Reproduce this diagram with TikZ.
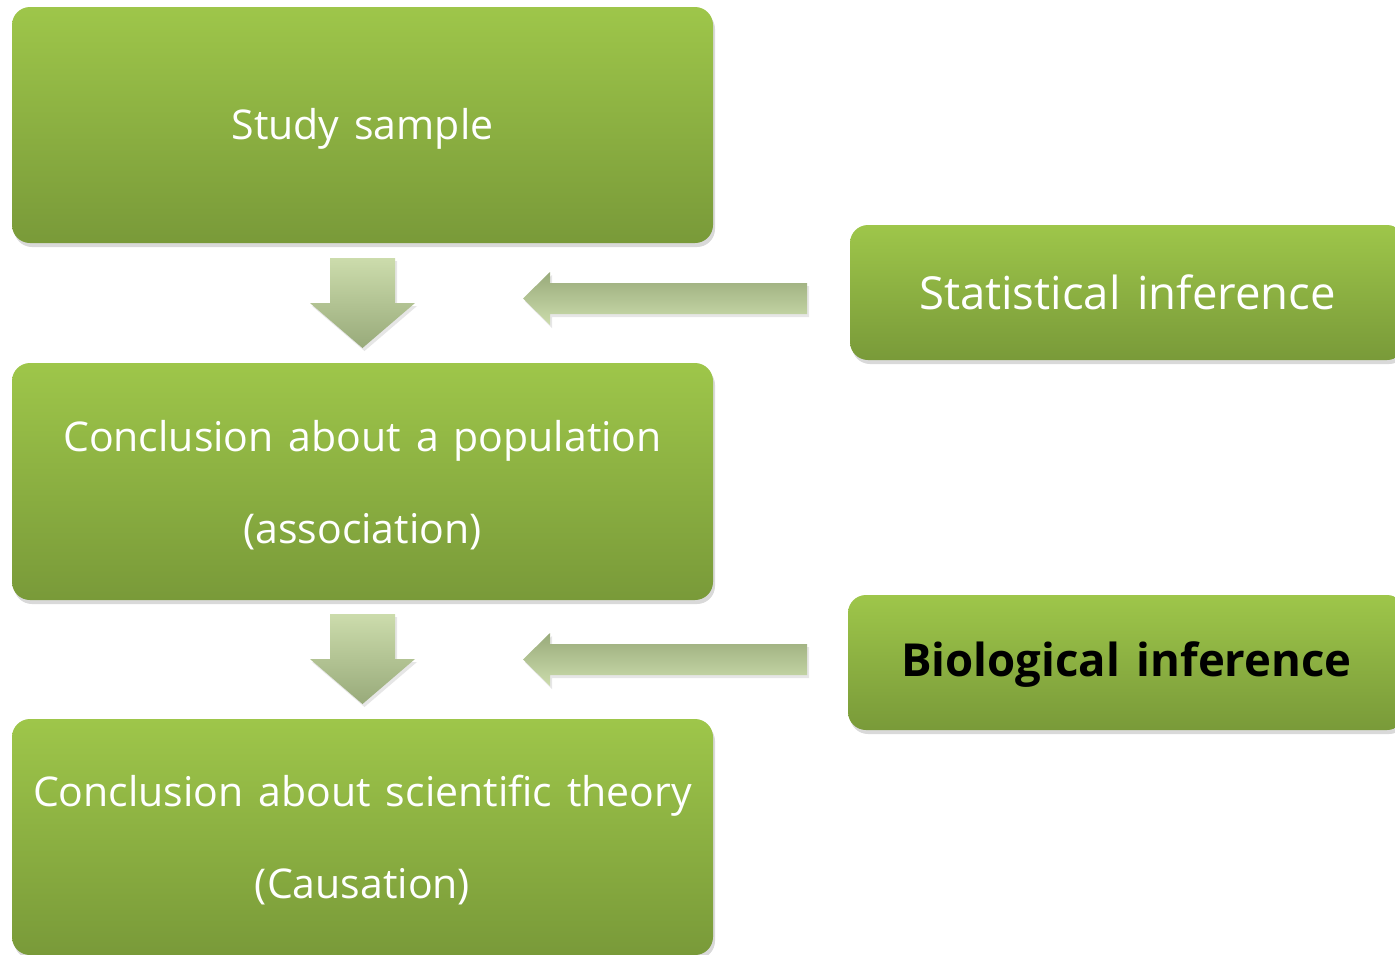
\documentclass[tikz,border=0pt]{standalone}
\usepackage{fontspec}
\setmainfont{Open Sans}[WordSpace=1.4]
\usetikzlibrary{shadows}
\definecolor{gtop}{RGB}{158,198,74}
\definecolor{gbot}{RGB}{121,154,57}
\definecolor{alight}{RGB}{204,220,172}
\definecolor{adark}{RGB}{152,170,122}
\begin{document}
\begin{tikzpicture}[x=1pt,y=-1pt,
  box/.style={rounded corners=18pt, top color=gtop, bottom color=gbot, draw=none,
    drop shadow={shadow xshift=2pt, shadow yshift=-4pt, opacity=0.3}, inner sep=0pt},
  boxtext/.style={text=white, align=center, inner sep=0pt, font=\fontsize{41}{92}\selectfont},
  sidetext/.style={text=white, align=center, inner sep=0pt, font=\fontsize{45.5}{50}\selectfont},
  downarrow/.style={top color=alight, bottom color=adark, draw=none,
    drop shadow={shadow xshift=2pt, shadow yshift=-3pt, opacity=0.2}},
  leftarrow/.style={top color=adark, bottom color=alight, draw=none,
    drop shadow={shadow xshift=2pt, shadow yshift=-3pt, opacity=0.2}},
]
\useasboundingbox (0,0) rectangle (1395,954);
\node[box, minimum width=701pt, minimum height=236pt] (b1) at (362.5,125) {};
\node[box, minimum width=701pt, minimum height=237pt] (b2) at (362.5,481.5) {};
\node[box, minimum width=701pt, minimum height=236pt] (b3) at (362.5,837) {};
\node[box, minimum width=555pt, minimum height=135pt] (s1) at (1127.5,292.5) {};
\node[box, minimum width=557pt, minimum height=135pt] (s2) at (1126.5,662.5) {};
\node[boxtext] (t1) at ([yshift=-3.5pt]b1.center) {Study sample};
\node[boxtext] (t2) at ([yshift=-3.5pt]b2.center) {Conclusion about a population\\(association)};
\node[boxtext] (t3) at ([yshift=-3.5pt]b3.center) {Conclusion about scientific theory\\(Causation)};
\node[sidetext] (t4) at ([yshift=0.5pt]s1.center) {Statistical inference};
\node[sidetext, text=black, font=\fontsize{45.5}{50}\selectfont\bfseries] (t5) at ([yshift=-2pt]s2.center) {Biological inference};
% block arrows
\path[downarrow] (330,258) -- (395,258) -- (395,303) -- (415,303) -- (362.5,348) -- (310,303) -- (330,303) -- cycle;
\path[downarrow] (330,614) -- (395,614) -- (395,659) -- (415,659) -- (362.5,704) -- (310,659) -- (330,659) -- cycle;
\path[leftarrow] (807,283) -- (550,283) -- (550,272) -- (523,298.5) -- (550,325) -- (550,314) -- (807,314) -- cycle;
\path[leftarrow] (807,644) -- (550,644) -- (550,633) -- (523,659.5) -- (550,686) -- (550,675) -- (807,675) -- cycle;
\end{tikzpicture}
\end{document}
